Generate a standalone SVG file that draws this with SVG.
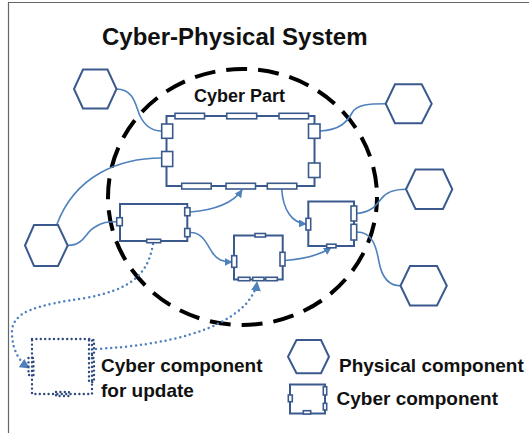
<svg xmlns="http://www.w3.org/2000/svg" width="529" height="433" viewBox="0 0 529 433">
<defs>
<style>
.hex{fill:#fff;stroke:#3a5a8e;stroke-width:2;stroke-linejoin:miter}
.box{fill:none;stroke:#3a5a8e;stroke-width:2}
.port{fill:#fff;stroke:#3a5a8e;stroke-width:1.6}
.con{fill:none;stroke:#4f81bd;stroke-width:1.6}
.dot{fill:none;stroke:#4f81bd;stroke-width:2.5;stroke-dasharray:0 5;stroke-linecap:round}
.dbox{fill:none;stroke:#2e4a7e;stroke-width:2.4;stroke-dasharray:0 4.4;stroke-linecap:round}
.t{font-family:"Liberation Sans",Arial,sans-serif;font-weight:bold;fill:#111}
</style>
<marker id="ah" viewBox="0 0 10 10" refX="9" refY="5" markerWidth="8" markerHeight="8" markerUnits="userSpaceOnUse" orient="auto"><path d="M0,0 L10,5 L0,10 Z" fill="#4f81bd"/></marker>
<marker id="ahd" viewBox="0 0 10 10" refX="9" refY="5" markerWidth="10" markerHeight="10" markerUnits="userSpaceOnUse" orient="auto"><path d="M0,0 L10,5 L0,10 Z" fill="#4f81bd"/></marker>
</defs>
<rect width="529" height="433" fill="#fff"/>
<path d="M8.5,433 V2.5 H529" fill="none" stroke="#666" stroke-width="1.2"/>

<text class="t" x="102" y="45" font-size="24">Cyber-Physical System</text>

<g id="cyber-part">
<ellipse cx="242.5" cy="197" rx="134.5" ry="128" fill="none" stroke="#000" stroke-width="4" stroke-dasharray="21 11" stroke-dashoffset="6"/>
<text class="t" x="194" y="102" font-size="18">Cyber Part</text>
</g>

<g id="connectors">
<path class="con" d="M116.5,89 C135,89 136,108 140,116 C144,124 150,131 161.7,131"/>
<path class="con" d="M161.7,158 C120,158 75,175 56.7,225"/>
<path class="con" d="M67.7,245.5 C85,245 85,232 95,227 C102,222 108,221.7 116.7,221.7"/>
<path class="con" d="M320,131 C340,130 347,122 352,113 C357,104 370,103.8 385.7,103.8"/>
<path class="con" d="M356.7,213.5 C372,212 376,205 381,199 C386,192 395,189.3 406,189.3"/>
<path class="con" d="M356.7,232 C372,232 376,245 379,262 C382,278 390,285.8 400.5,285.8"/>
<path class="con" marker-end="url(#ah)" d="M190,212 C215,210 233,203 242,190"/>
<path class="con" marker-end="url(#ah)" d="M281.7,189 C283,210 292,223 306,224"/>
<path class="con" marker-end="url(#ah)" d="M190,232.5 C203,232 207,245 212,252 C217,260 223,262 231.7,262"/>
<path class="con" marker-end="url(#ah)" d="M285,260.5 C305,259 320,255 331,247.5"/>
<path class="dot" marker-end="url(#ahd)" d="M153,244 C148,275 130,290 85,298 C40,305 10,310 12,335 C13,352 20,362 29,368"/>
<path class="dot" marker-end="url(#ahd)" d="M96,349 C170,345 220,330 245,305 C252,297 256,290 257,282"/>
</g>

<g id="phys-1"><polygon class="hex" points="74,89 83,69.5 107.5,69.5 116.5,89 107.5,108.5 83,108.5"/></g>
<g id="phys-2"><polygon class="hex" points="385.7,103.8 395,84.3 421.7,84.3 431.7,103.8 421.7,123.3 395,123.3"/></g>
<g id="phys-3"><polygon class="hex" points="406,189.3 415.5,169.5 443,169.5 452.3,189.3 443,209 415.5,209"/></g>
<g id="phys-4"><polygon class="hex" points="400.5,285.8 410,266 437,266 446.8,285.8 437,305.5 410,305.5"/></g>
<g id="phys-5"><polygon class="hex" points="25,245.5 34,225 58,225 67.7,245.5 58,266 34,266"/></g>

<g id="cyber-big">
<rect class="box" x="166.5" y="116" width="148" height="70"/>
<rect class="port" x="175" y="113.3" width="29.5" height="5.5"/>
<rect class="port" x="226.7" y="113.3" width="30" height="5.5"/>
<rect class="port" x="279" y="113.3" width="29.5" height="5.5"/>
<rect class="port" x="161.7" y="124" width="11" height="14.3"/>
<rect class="port" x="161.7" y="151.5" width="11" height="15"/>
<rect class="port" x="308.5" y="124" width="11.5" height="14.3"/>
<rect class="port" x="308.5" y="163" width="11.5" height="14.5"/>
<rect class="port" x="181.7" y="183.3" width="29.5" height="5.7"/>
<rect class="port" x="226" y="183.3" width="29.5" height="5.7"/>
<rect class="port" x="267.3" y="183.3" width="29.5" height="5.7"/>
</g>

<g id="cyber-1">
<rect class="box" x="120" y="204" width="67.3" height="37"/>
<rect class="port" x="116.7" y="217.7" width="5.6" height="8"/>
<rect class="port" x="184.7" y="207.7" width="5.3" height="8"/>
<rect class="port" x="184.7" y="228.5" width="5.3" height="8.2"/>
<rect class="port" x="146.7" y="239.3" width="14" height="3.4"/>
</g>

<g id="cyber-2">
<rect class="box" x="234" y="235.5" width="48.7" height="44"/>
<rect class="port" x="255" y="233.5" width="10.5" height="3.5"/>
<rect class="port" x="231.7" y="255.7" width="5" height="11.6"/>
<rect class="port" x="280" y="252.3" width="5" height="13.7"/>
<rect class="port" x="238.3" y="277.3" width="11.7" height="3.4"/>
<rect class="port" x="252.7" y="277.3" width="11.3" height="3.4"/>
<rect class="port" x="265.7" y="277.3" width="11.6" height="3.4"/>
</g>

<g id="cyber-3">
<rect class="box" x="308.3" y="201.5" width="45.7" height="44.5"/>
<rect class="port" x="306" y="218.3" width="4.7" height="11.7"/>
<rect class="port" x="351" y="206" width="5.7" height="15"/>
<rect class="port" x="351" y="224.3" width="5.7" height="15.7"/>
<rect class="port" x="326.7" y="244.2" width="9.3" height="3.6"/>
</g>

<g id="cyber-update">
<rect class="dbox" x="32" y="339" width="60" height="55"/>
<rect class="dbox" x="28.5" y="358" width="5" height="17"/>
<rect class="dbox" x="89" y="340" width="5" height="15"/>
<rect class="dbox" x="89" y="358" width="5" height="24"/>
<rect class="dbox" x="56" y="392" width="13" height="4"/>
<text class="t" x="101" y="372" font-size="19">Cyber component</text>
<text class="t" x="101" y="397" font-size="19">for update</text>
</g>

<g id="legend-physical">
<polygon class="hex" points="288,356.7 296.5,340 321,340 329,356.7 321,373.3 296.5,373.3"/>
<text class="t" x="339" y="372" font-size="19">Physical component</text>
</g>

<g id="legend-cyber">
<rect class="box" x="290" y="384.5" width="35" height="29"/>
<rect class="port" x="288.3" y="395" width="4" height="6.7"/>
<rect class="port" x="323.3" y="386.7" width="3.4" height="8.3"/>
<rect class="port" x="323.3" y="403.3" width="3.4" height="6.7"/>
<rect class="port" x="303.3" y="410.7" width="7.4" height="3.3"/>
<text class="t" x="336.5" y="405" font-size="19">Cyber component</text>
</g>
</svg>
